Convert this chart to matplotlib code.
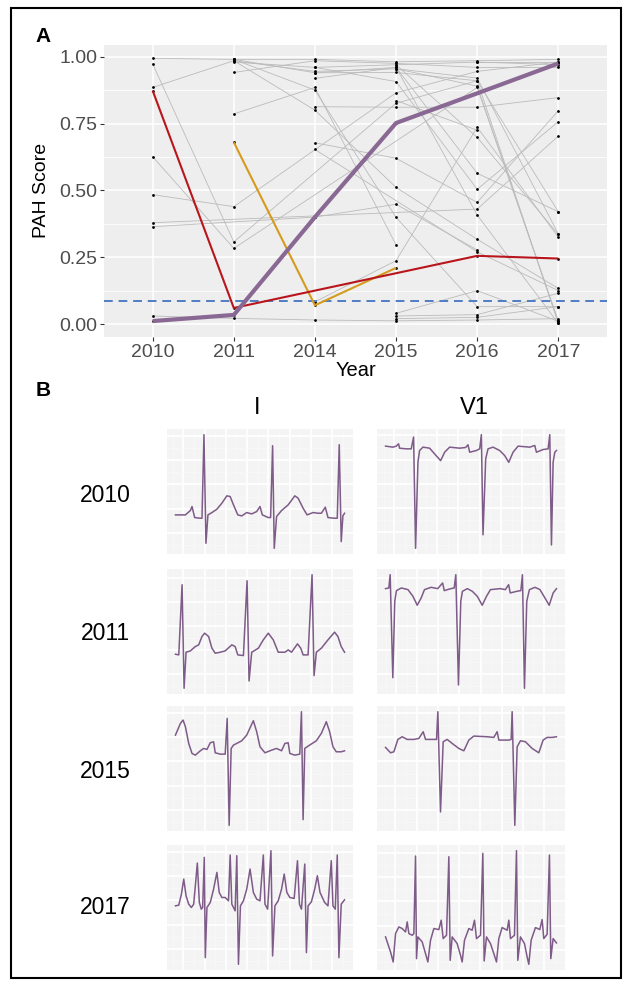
import numpy as np
import matplotlib
matplotlib.use("Agg")
import matplotlib.pyplot as plt
from matplotlib.ticker import MultipleLocator, FixedLocator
from matplotlib.patches import Rectangle

plt.rcParams['font.family'] = ['Liberation Sans', 'DejaVu Sans']

# ---------------- data: panel A ----------------
years = ['2010', '2011', '2014', '2015', '2016', '2017']
nan = np.nan
gray_series = [
    [0.994, 0.990, 0.990, 0.981, 0.985, 0.990],
    [0.973, 0.307, nan, 0.826, 0.910, 0.002],
    [0.626, 0.283, nan, nan, 0.885, 0.010],
    [0.885, 0.985, 0.945, 0.955, 0.920, 0.337],
    [0.484, 0.439, nan, 0.865, 0.945, 0.980],
    [0.379, nan, nan, nan, 0.430, 0.703],
    [0.364, nan, 0.400, 0.448, 0.277, nan],
    [0.030, 0.021, 0.015, 0.012, 0.015, 0.020],
    [nan, 0.980, 0.960, 0.970, 0.980, 0.970],
    [nan, 0.990, 0.940, 0.941, 0.910, 0.420],
    [nan, 0.941, 0.985, 0.975, 0.960, 0.960],
    [nan, 0.786, 0.885, 0.296, nan, nan],
    [nan, 0.990, 0.875, 0.399, 0.065, 0.065],
    [nan, 0.985, 0.800, 0.511, 0.317, 0.133],
    [nan, nan, 0.813, 0.811, 0.811, 0.847],
    [nan, nan, 0.678, 0.620, 0.455, 0.798],
    [nan, nan, 0.653, nan, 0.270, 0.125],
    [nan, nan, 0.919, 0.960, 0.564, 0.420],
    [nan, nan, 0.083, 0.237, 0.736, 0.325],
    [nan, nan, nan, 0.040, 0.125, 0.010],
    [nan, nan, nan, 0.030, 0.035, 0.115],
    [nan, nan, nan, 0.020, 0.025, 0.065],
    [nan, nan, 0.960, 0.907, 0.504, 0.757],
    [nan, nan, 0.940, 0.960, 0.408, 0.002],
    [nan, nan, nan, 0.970, 0.698, 0.335],
    [nan, nan, nan, 0.955, 0.890, 0.010],
    [nan, nan, nan, 0.836, 0.725, nan],
    [nan, nan, nan, nan, 0.980, 0.980],
]
red_series = [0.873, 0.060, nan, nan, 0.255, 0.245]
orange_series = [nan, 0.680, 0.070, 0.210, nan, nan]
purple_series = [0.011, 0.034, 0.400, 0.752, 0.863, 0.975]
threshold = 0.086
y_ticks = [0.00, 0.25, 0.50, 0.75, 1.00]

# ---------------- data: panel B (ECG traces, sample index, amplitude units) ----------------
ecg_I_2010 = [(40,125),(70,125),(85,138),(90,150),(98,117),(115,115),(120,115),(126,365),(132,40),
    (138,125),(150,132),(165,142),(180,160),(195,182),(205,180),(215,155),(228,125),(240,122),
    (255,132),(270,128),(285,135),(295,150),(302,125),(320,117),(327,117),(333,332),(338,25),
    (345,120),(360,138),(380,155),(400,182),(410,175),(425,145),(437,125),(455,132),(470,130),
    (480,130),(492,148),(500,117),(520,115),(528,115),(534,335),(540,45),(545,122),(550,130)]
ecg_V1_2010 = [(38,328),(60,325),(70,328),(77,335),(80,322),(100,320),(115,320),(122,355),(128,25),
    (135,280),(140,315),(150,325),(170,322),(185,305),(203,285),(215,310),(230,325),(260,322),
    (278,324),(285,332),(290,310),(310,315),(320,320),(325,362),(330,65),(338,290),(345,320),
    (360,325),(380,315),(395,300),(407,280),(420,310),(435,328),(470,325),(485,330),(490,310),
    (510,318),(525,320),(530,362),(535,35),(540,280),(545,310),(550,315)]
ecg_I_2011 = [(40,132),(50,130),(60,340),(66,30),(72,138),(85,142),(100,155),(110,160),(120,185),
    (128,195),(140,185),(150,150),(160,135),(175,138),(190,142),(210,160),(220,155),(228,130),
    (245,128),(256,352),(262,52),(270,138),(290,150),(305,175),(320,195),(335,175),(350,138),
    (370,138),(380,145),(390,138),(408,163),(418,150),(425,130),(440,130),(452,370),(458,68),
    (465,138),(480,150),(500,175),(520,198),(530,185),(540,155),(550,138)]
ecg_V1_2011 = [(32,328),(42,330),(46,370),(54,60),(60,290),(65,322),(80,330),(100,325),(115,305),
    (128,278),(140,300),(150,325),(170,332),(190,328),(205,345),(210,322),(230,328),(240,330),
    (245,370),(253,38),(260,290),(265,320),(280,328),(295,320),(310,305),(325,278),(338,305),
    (350,325),(380,328),(395,325),(405,340),(410,315),(430,320),(442,322),(447,370),(453,28),
    (460,290),(468,325),(485,332),(500,325),(515,300),(528,278),(540,315),(550,328)]
ecg_I_2015 = [(40,295),(55,330),(63,340),(70,320),(80,270),(90,240),(100,235),(115,248),(125,255),
    (135,252),(145,272),(155,275),(160,242),(175,238),(190,238),(196,345),(202,25),(208,255),
    (215,265),(240,278),(255,295),(275,338),(285,305),(295,260),(310,242),(330,250),(345,255),
    (360,248),(370,270),(380,272),(385,240),(400,235),(415,238),(420,365),(425,42),(430,255),
    (440,262),(465,278),(480,300),(495,335),(505,305),(515,260),(525,245),(540,245),(550,248)]
ecg_V1_2015 = [(35,258),(50,242),(60,245),(72,282),(85,290),(100,282),(120,282),(135,285),(148,305),
    (155,282),(180,282),(188,282),(192,365),(200,65),(208,275),(220,282),(235,270),(255,255),
    (270,248),(285,280),(300,292),(340,290),(360,288),(370,305),(375,280),(405,280),(412,282),
    (415,365),(423,25),(430,260),(440,278),(455,275),(475,255),(495,242),(508,280),(520,288),
    (535,288),(548,290)]
ecg_I_2017 = [(40,200),(50,202),(58,235),(65,280),(72,230),(80,205),(88,195),(95,205),(100,260),
    (106,328),(112,210),(118,190),(122,195),(127,345),(130,45),(135,195),(145,210),(155,250),
    (165,300),(172,240),(180,225),(190,225),(200,215),(205,352),(210,205),(220,185),(225,350),
    (230,25),(236,200),(245,215),(255,250),(265,310),(275,240),(285,220),(295,215),(305,352),
    (310,205),(318,190),(328,365),(333,50),(340,200),(350,215),(360,250),(368,295),(376,240),
    (385,225),(398,222),(408,335),(414,205),(420,190),(430,325),(435,60),(440,200),(450,212),
    (460,250),(468,290),(476,240),(490,210),(500,200),(510,335),(515,200),(522,190),(528,352),
    (533,45),(540,205),(550,218)]
ecg_V1_2017 = [(35,110),(50,65),(58,35),(65,120),(75,140),(85,135),(95,125),(100,155),(105,120),
    (115,115),(120,120),(125,352),(128,45),(132,110),(145,95),(155,60),(162,35),(170,100),
    (180,135),(195,132),(202,160),(208,105),(218,115),(225,350),(229,40),(235,110),(250,90),
    (260,55),(265,35),(272,100),(285,135),(295,130),(302,160),(308,105),(320,115),(327,360),
    (331,38),(338,110),(350,90),(360,60),(368,35),(375,105),(385,138),(400,130),(405,160),
    (410,105),(422,115),(428,368),(432,40),(440,110),(452,90),(460,50),(465,28),(472,100),
    (485,138),(498,132),(505,162),(510,105),(520,118),(527,355),(531,45),(538,105),(548,92)]
ecg_rows = ['2010', '2011', '2015', '2017']
ecg_leads = ['I', 'V1']
ecg_traces = {
    ('2010', 'I'): ecg_I_2010, ('2010', 'V1'): ecg_V1_2010,
    ('2011', 'I'): ecg_I_2011, ('2011', 'V1'): ecg_V1_2011,
    ('2015', 'I'): ecg_I_2015, ('2015', 'V1'): ecg_V1_2015,
    ('2017', 'I'): ecg_I_2017, ('2017', 'V1'): ecg_V1_2017,
}

# ---------------- figure ----------------
W, H = 628, 984
fig = plt.figure(figsize=(W / 100, H / 100), dpi=100)
fig.patch.set_facecolor('white')


def rect(l, t, r, b):
    return [l / W, 1 - b / H, (r - l) / W, (b - t) / H]


def ftext(x, y, s, **kw):
    fig.text(x / W, 1 - y / H, s, ha='center', va='center', **kw)


fig.add_artist(Rectangle((11 / W, 1 - 978 / H), 610 / W, 970 / H, transform=fig.transFigure,
                         fill=False, edgecolor='black', linewidth=1.5))

# Panel A
ax = fig.add_axes(rect(104, 45, 607, 337))
ax.set_facecolor('#EEEEEE')
xs = np.arange(len(years))
for s in gray_series:
    a = np.array(s, float)
    m = ~np.isnan(a)
    ax.plot(xs[m], a[m], color='#BBBBBB', lw=0.6, zorder=2)
all_series = gray_series + [red_series, orange_series, purple_series]
for s in all_series:
    a = np.array(s, float)
    m = ~np.isnan(a)
    ax.scatter(xs[m], a[m], s=4, color='black', zorder=3, linewidths=0)
ax.axhline(threshold, color='#4F7DC4', lw=1.4, ls=(0, (4.5, 3)), zorder=4)
for s, c, lw, z in [(orange_series, '#D49B1C', 1.5, 5), (red_series, '#B8161C', 1.5, 6),
                    (purple_series, '#8A6894', 3.0, 7)]:
    a = np.array(s, float)
    m = ~np.isnan(a)
    ax.plot(xs[m], a[m], color=c, lw=lw, zorder=z, solid_capstyle='butt')
ax.set_xlim(-0.6, len(years) - 0.4)
ax.set_ylim(-0.0486, 1.0438)
ax.set_xticks(xs)
ax.set_xticklabels(years)
ax.set_yticks(y_ticks)
ax.set_yticklabels([f'{v:.2f}' for v in y_ticks])
ax.yaxis.set_minor_locator(FixedLocator([0.125, 0.375, 0.625, 0.875]))
ax.grid(which='major', color='white', lw=1.1, zorder=0)
ax.grid(which='minor', axis='y', color='white', lw=0.55, zorder=0)
ax.set_axisbelow(True)
for sp in ax.spines.values():
    sp.set_visible(False)
ax.tick_params(which='major', length=3, width=0.8, color='#333333', labelcolor='#4D4D4D',
               labelsize=14, pad=2)
ax.tick_params(which='minor', length=0)

ftext(43, 37, 'A', fontsize=15, fontweight='bold')
ftext(41, 190, 'PAH Score', fontsize=14, rotation=90)
ftext(356, 370, 'Year', fontsize=14.5)

# Panel B
ftext(43, 390, 'B', fontsize=15, fontweight='bold')
ftext(257, 408, 'I', fontsize=17)
ftext(474, 408, 'V1', fontsize=17)
row_boxes = [(429, 554), (569, 694), (706, 831), (845, 970)]
row_label_y = [496, 633, 772, 908]
col_boxes = [(167, 353), (377, 565)]
for ri, yr in enumerate(ecg_rows):
    ftext(105, row_label_y[ri], yr, fontsize=16.5)
    for ci, lead in enumerate(ecg_leads):
        t0, b0 = row_boxes[ri]
        l0, r0 = col_boxes[ci]
        e = fig.add_axes(rect(l0, t0, r0, b0))
        pts = np.array(ecg_traces[(yr, lead)], float)
        e.plot(pts[:, 0], pts[:, 1], color='#7E5B88', lw=1.1, zorder=3)
        e.margins(0.05)
        e.set_facecolor('#F4F4F4')
        e.xaxis.set_major_locator(MultipleLocator(64))
        e.xaxis.set_minor_locator(MultipleLocator(32))
        e.yaxis.set_major_locator(MultipleLocator(72))
        e.yaxis.set_minor_locator(MultipleLocator(36))
        e.grid(which='major', color='white', lw=1.3)
        e.grid(which='minor', color='#FAFAFA', lw=0.4)
        e.set_axisbelow(True)
        e.tick_params(which='both', length=0, labelbottom=False, labelleft=False)
        for sp in e.spines.values():
            sp.set_visible(False)

fig.savefig('out.png', dpi=100)
